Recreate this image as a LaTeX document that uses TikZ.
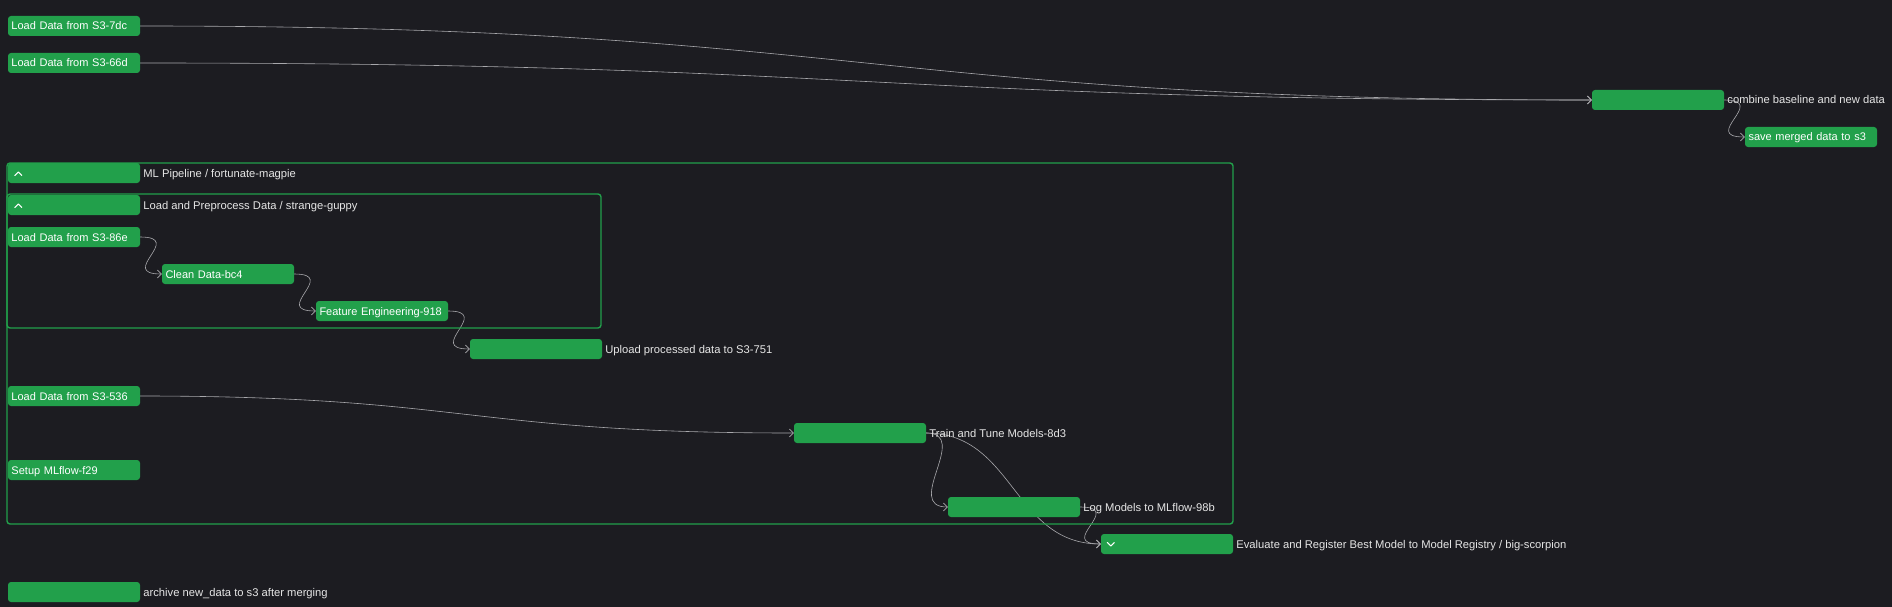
\documentclass[tikz,border=0pt]{standalone}
\usepackage{fontspec}
\setmainfont{Liberation Sans}
\usetikzlibrary{arrows.meta}

\definecolor{canvas}{HTML}{1C1C21}
\definecolor{stepgreen}{HTML}{22A04B}
\definecolor{wiregray}{HTML}{A8A8AC}
\definecolor{labelgray}{HTML}{E6E6E6}

\pgfdeclarelayer{canvaslayer}
\pgfdeclarelayer{wirelayer}
\pgfsetlayers{canvaslayer,wirelayer,main}

\tikzset{
	task/.style = {rectangle, rounded corners=3pt, fill=stepgreen, draw=none,
		minimum width=132pt, minimum height=20pt, inner ysep=0pt, inner xsep=3.5pt,
		text width=125pt, align=left, text=white, text height=8pt, text depth=0pt,
		font=\fontsize{11}{13}\selectfont},
	every label/.style = {text=labelgray, font=\fontsize{11.2}{13}\selectfont,
		text height=8pt, text depth=0pt, inner sep=1pt},
	group/.style = {draw=stepgreen, line width=1.4pt, rounded corners=3pt},
	wire/.style = {draw=wiregray, line width=0.6pt, -{Straight Barb[length=4pt,width=8pt]}},
	chevron/.style = {draw=white, line width=1pt, line cap=round, line join=round}
}

\begin{document}
\begin{tikzpicture}[x=1pt, y=-1pt, label distance=2pt]
	\useasboundingbox (0,0) rectangle (1892,607);
	\begin{pgfonlayer}{canvaslayer}
		\fill[canvas] (0,0) rectangle (1892,607);
	\end{pgfonlayer}
	% groups
		\draw[group] (7,163) rectangle (1233,524);
		\draw[group] (7,194) rectangle (601,328);
	% steps
		\node[task] (s3a) at (74,26) {Load Data from S3-7dc};
		\node[task] (s3b) at (74,63) {Load Data from S3-66d};
	\begin{scope}[task/.append style = {label=right:{combine baseline and new data}}]
		\node[task] (merge) at (1658,100) {};
	\end{scope}
		\node[task] (savemerged) at (1811,137) {save merged data to s3};
	\begin{scope}[task/.append style = {label=right:{ML Pipeline / fortunate-magpie}}]
		\node[task] (pipeline) at (74,173) {};
	\end{scope}
	\begin{scope}[task/.append style = {label=right:{Load and Preprocess Data / strange-guppy}}]
		\node[task] (preprocess) at (74,205) {};
	\end{scope}
		\node[task] (s3c) at (74,237) {Load Data from S3-86e};
		\node[task] (clean) at (228,274) {Clean Data-bc4};
		\node[task] (features) at (382,311) {Feature Engineering-918};
	\begin{scope}[task/.append style = {label=right:{Upload processed data to S3-751}}]
		\node[task] (upload) at (536,349) {};
	\end{scope}
		\node[task] (s3d) at (74,396) {Load Data from S3-536};
	\begin{scope}[task/.append style = {label=right:{Train and Tune Models-8d3}}]
		\node[task] (train) at (860,433) {};
	\end{scope}
		\node[task] (mlflow) at (74,470) {Setup MLflow-f29};
	\begin{scope}[task/.append style = {label=right:{Log Models to MLflow-98b}}]
		\node[task] (logmodels) at (1014,507) {};
	\end{scope}
	\begin{scope}[task/.append style = {label=right:{Evaluate and Register Best Model to Model Registry / big-scorpion}}]
		\node[task] (evaluate) at (1167,544) {};
	\end{scope}
	\begin{scope}[task/.append style = {label=right:{archive new\_data to s3 after merging}}]
		\node[task] (archive) at (74,592) {};
	\end{scope}
	% toggles
		\draw[chevron] ([shift={(7,2.5)}]pipeline.west) -- ++(3.5,-3.5) -- ++(3.5,3.5);
		\draw[chevron] ([shift={(7,2.5)}]preprocess.west) -- ++(3.5,-3.5) -- ++(3.5,3.5);
		\draw[chevron] ([shift={(6.5,-1.5)}]evaluate.west) -- ++(3.5,3.5) -- ++(3.5,-3.5);
	% edges
	\begin{pgfonlayer}{wirelayer}
		\draw[wire] (s3a.east) .. controls +(725,0) and +(-725,0) .. (merge.west);
		\draw[wire] (s3b.east) .. controls +(725,0) and +(-725,0) .. (merge.west);
		\draw[wire] (s3d.east) .. controls +(327,0) and +(-327,0) .. (train.west);
		\draw[wire] (train.east) .. controls +(88,0) and +(-88,0) .. (evaluate.west);
		\foreach \from/\to in {merge/savemerged, s3c/clean, clean/features,
			features/upload, train/logmodels, logmodels/evaluate}
			\draw[wire] (\from.east) .. controls +(45,0) and +(-45,0) .. (\to.west);
	\end{pgfonlayer}
\end{tikzpicture}
\end{document}
